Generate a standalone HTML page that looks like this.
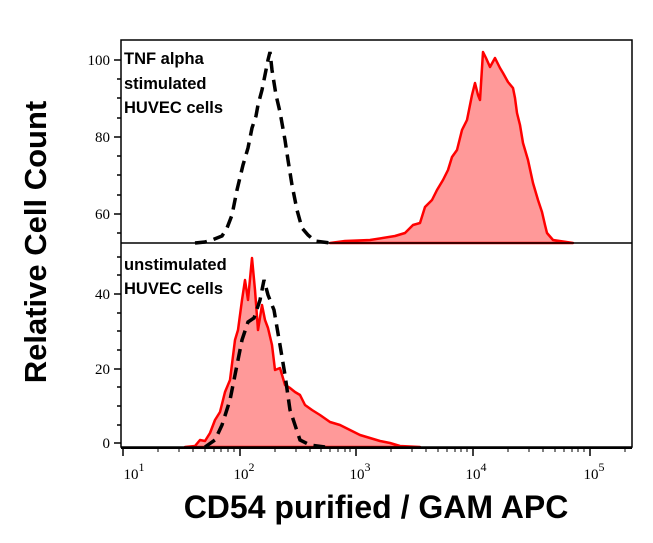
<!DOCTYPE html>
<html><head><meta charset="utf-8"><style>
body{margin:0;background:#fff;}
.s{font-family:"Liberation Serif",serif;}
.b{font-family:"Liberation Sans",sans-serif;font-weight:bold;}
</style></head><body>
<svg width="653" height="538" xmlns="http://www.w3.org/2000/svg">
<rect width="653" height="538" fill="#fff"/>
<path d="M330,243 L345,241 L370,240 L395,236 L405,233 L413,225 L420,223 L425,207 L432,200 L437,190 L443,180 L448,170 L452,157 L457,150 L462,130 L467,120 L472,95 L475,83 L478,95 L480,100 L483,52 L486,58 L490,67 L495,58 L500,68 L503,73 L508,82 L513,88 L515,98 L517,113 L520,125 L523,143 L528,160 L533,183 L538,200 L542,212 L545,225 L547,233 L553,240 L573,243 Z" fill="#ff9999" stroke="#f00" stroke-width="2.5" stroke-linejoin="round"/>
<path d="M195,243 L205,242 L212,240 L222,236 L227,228 L232,215 L237,190 L243,165 L248,148 L252,128 L256,116 L258,105 L262,90 L265,75 L268,60 L270,52 L272,70 L276,95 L280,112 L285,140 L288,160 L292,185 L297,210 L302,228 L308,235 L315,241 L330,243" fill="none" stroke="#000" stroke-width="3.5" stroke-dasharray="12,7"/>
<path d="M185,447 L195,446 L200,440 L205,441 L210,433 L215,420 L220,412 L225,392 L230,380 L235,340 L238,330 L242,300 L245,280 L248,300 L252,258 L255,290 L258,330 L262,305 L265,320 L268,328 L272,345 L275,370 L280,368 L285,385 L290,388 L295,392 L300,395 L305,405 L312,410 L320,415 L330,422 L340,425 L350,430 L360,435 L370,438 L380,441 L390,443 L400,446 L420,447 Z" fill="#ff9999" stroke="#f00" stroke-width="2.5" stroke-linejoin="round"/>
<path d="M205,447 L215,440 L222,425 L230,400 L236,370 L242,340 L248,322 L254,318 L260,300 L264,280 L268,295 L274,310 L280,345 L285,375 L290,410 L295,425 L300,440 L310,445 L325,447" fill="none" stroke="#000" stroke-width="3.5" stroke-dasharray="12,7"/>
<rect x="121" y="40" width="511" height="407" fill="none" stroke="#000" stroke-width="1.5"/>
<line x1="121" y1="243" x2="632" y2="243" stroke="#000" stroke-width="1.5"/>
<line x1="121" y1="448" x2="632" y2="448" stroke="#000" stroke-width="2"/>
<g stroke="#000" stroke-width="1.5">
<line x1="114" y1="60" x2="121" y2="60"/><line x1="114" y1="137" x2="121" y2="137"/><line x1="114" y1="214" x2="121" y2="214"/>
<line x1="117" y1="79" x2="121" y2="79"/><line x1="117" y1="98" x2="121" y2="98"/><line x1="117" y1="118" x2="121" y2="118"/>
<line x1="117" y1="156" x2="121" y2="156"/><line x1="117" y1="175" x2="121" y2="175"/><line x1="117" y1="195" x2="121" y2="195"/><line x1="117" y1="233" x2="121" y2="233"/>
<line x1="114" y1="294" x2="121" y2="294"/><line x1="114" y1="369" x2="121" y2="369"/><line x1="114" y1="443" x2="121" y2="443"/>
<line x1="117" y1="257" x2="121" y2="257"/><line x1="117" y1="275" x2="121" y2="275"/><line x1="117" y1="313" x2="121" y2="313"/><line x1="117" y1="331" x2="121" y2="331"/><line x1="117" y1="350" x2="121" y2="350"/><line x1="117" y1="387" x2="121" y2="387"/><line x1="117" y1="406" x2="121" y2="406"/><line x1="117" y1="425" x2="121" y2="425"/>
</g>
<g font-size="15" text-anchor="end" fill="#000">
<text class="s" x="110" y="65">100</text><text class="s" x="110" y="142">80</text><text class="s" x="110" y="219">60</text>
<text class="s" x="110" y="299">40</text><text class="s" x="110" y="374">20</text><text class="s" x="110" y="448">0</text>
</g>
<g stroke="#000" stroke-width="1.5">
<line x1="123" y1="448" x2="123" y2="456"/><line x1="240" y1="448" x2="240" y2="456"/><line x1="356" y1="448" x2="356" y2="456"/><line x1="473" y1="448" x2="473" y2="456"/><line x1="590" y1="448" x2="590" y2="456"/>
</g>
<g stroke="#000" stroke-width="1">
<path d="M158,448v4M179,448v4M193,448v4M205,448v4M214,448v4M221,448v4M228,448v4M234,448v4
M275,448v4M296,448v4M310,448v4M321,448v4M330,448v4M338,448v4M345,448v4M350,448v4
M391,448v4M412,448v4M426,448v4M438,448v4M447,448v4M455,448v4M461,448v4M467,448v4
M508,448v4M529,448v4M543,448v4M555,448v4M564,448v4M572,448v4M578,448v4M584,448v4
M625,448v4"/>
</g>
<g font-size="15" fill="#000" text-anchor="middle">
<text class="s" x="134" y="479">10<tspan dy="-8" font-size="12">1</tspan></text>
<text class="s" x="244" y="479">10<tspan dy="-8" font-size="12">2</tspan></text>
<text class="s" x="360" y="479">10<tspan dy="-8" font-size="12">3</tspan></text>
<text class="s" x="476" y="479">10<tspan dy="-8" font-size="12">4</tspan></text>
<text class="s" x="594" y="479">10<tspan dy="-8" font-size="12">5</tspan></text>
</g>
<g font-size="16.5" fill="#000">
<text class="b" x="124" y="64">TNF alpha</text>
<text class="b" x="124" y="89">stimulated</text>
<text class="b" x="124" y="113">HUVEC cells</text>
<text class="b" x="124" y="270">unstimulated</text>
<text class="b" x="124" y="294">HUVEC cells</text>
</g>
<text class="b" x="376" y="518" text-anchor="middle" font-size="32">CD54 purified / GAM APC</text>
<text class="b" transform="translate(46,242) rotate(-90)" text-anchor="middle" font-size="31">Relative Cell Count</text>
</svg>
</body></html>
